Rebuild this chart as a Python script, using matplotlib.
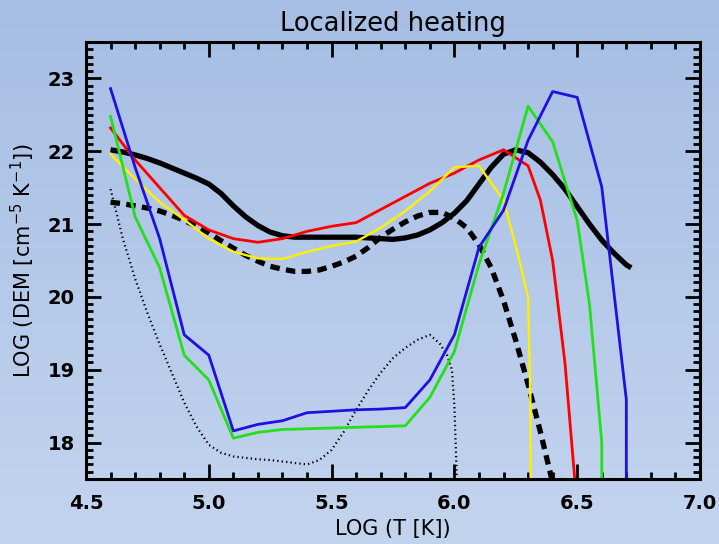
import numpy as np
import matplotlib
matplotlib.use("Agg")
import matplotlib.pyplot as plt
from matplotlib.colors import LinearSegmentedColormap
from matplotlib.ticker import MultipleLocator, FormatStrFormatter

# ---- data: log T vs log DEM ----
# smooth black curve
t_black = [4.60, 4.65, 4.70, 4.75, 4.80, 4.85, 4.90, 4.95, 5.00, 5.05, 5.10, 5.15,
           5.20, 5.25, 5.30, 5.35, 5.40, 5.50, 5.60, 5.70, 5.75, 5.80, 5.85, 5.90,
           5.95, 6.00, 6.05, 6.10, 6.15, 6.20, 6.25, 6.30, 6.35, 6.40, 6.45, 6.50,
           6.55, 6.60, 6.65, 6.70, 6.72]
dem_black = [22.02, 21.99, 21.95, 21.90, 21.84, 21.77, 21.70, 21.63, 21.55, 21.42, 21.25, 21.10,
             20.98, 20.89, 20.84, 20.82, 20.82, 20.82, 20.82, 20.80, 20.79, 20.81, 20.85, 20.92,
             21.02, 21.15, 21.32, 21.55, 21.78, 21.96, 22.02, 21.98, 21.85, 21.68, 21.48, 21.24,
             21.00, 20.78, 20.60, 20.44, 20.40]

# dashed black curve
t_dash = [4.60, 4.65, 4.70, 4.75, 4.80, 4.85, 4.90, 4.95, 5.00, 5.05, 5.10, 5.15, 5.20,
          5.25, 5.30, 5.35, 5.40, 5.45, 5.50, 5.55, 5.60, 5.65, 5.70, 5.75, 5.80, 5.85,
          5.90, 5.95, 6.00, 6.05, 6.10, 6.15, 6.20, 6.25, 6.30, 6.35, 6.40]
dem_dash = [21.30, 21.28, 21.25, 21.22, 21.18, 21.12, 21.05, 20.97, 20.88, 20.77, 20.67, 20.57, 20.49,
            20.42, 20.38, 20.35, 20.35, 20.37, 20.42, 20.48, 20.56, 20.68, 20.82, 20.93, 21.03, 21.11,
            21.16, 21.16, 21.08, 20.95, 20.72, 20.40, 19.95, 19.40, 18.80, 18.15, 17.45]

# dotted black curve
t_dot = [4.60, 4.65, 4.70, 4.75, 4.80, 4.85, 4.90, 4.95, 5.00, 5.05, 5.10, 5.15, 5.20,
         5.25, 5.30, 5.35, 5.40, 5.45, 5.50, 5.55, 5.60, 5.65, 5.70, 5.75, 5.80, 5.85,
         5.90, 5.94, 5.97, 5.99, 6.00, 6.01]
dem_dot = [21.48, 20.80, 20.25, 19.78, 19.35, 18.95, 18.55, 18.22, 17.97, 17.86, 17.81, 17.79, 17.77,
           17.76, 17.74, 17.72, 17.70, 17.76, 17.90, 18.15, 18.45, 18.72, 18.96, 19.16, 19.30, 19.41,
           19.48, 19.36, 19.20, 19.00, 18.50, 17.50]

# red model
t_red = [4.60, 4.70, 4.80, 4.90, 5.00, 5.10, 5.20, 5.30, 5.40, 5.50, 5.60, 5.70, 5.80,
         5.90, 6.00, 6.10, 6.20, 6.30, 6.35, 6.40, 6.45, 6.49]
dem_red = [22.32, 21.88, 21.50, 21.12, 20.92, 20.80, 20.75, 20.80, 20.90, 20.97, 21.02, 21.20, 21.38,
           21.56, 21.70, 21.88, 22.02, 21.80, 21.33, 20.50, 19.10, 17.50]

# yellow model
t_yel = [4.60, 4.70, 4.80, 4.90, 5.00, 5.10, 5.20, 5.30, 5.40, 5.50, 5.60, 5.70, 5.80,
         5.90, 6.00, 6.10, 6.20, 6.25, 6.30, 6.31, 6.31]
dem_yel = [21.96, 21.62, 21.30, 21.06, 20.80, 20.62, 20.53, 20.52, 20.62, 20.70, 20.76, 20.95, 21.18,
           21.45, 21.78, 21.80, 21.33, 20.70, 20.00, 18.50, 17.50]

# green model
t_grn = [4.60, 4.70, 4.80, 4.90, 5.00, 5.10, 5.20, 5.30, 5.40, 5.50, 5.60, 5.70, 5.80,
         5.90, 6.00, 6.10, 6.20, 6.30, 6.40, 6.50, 6.55, 6.60, 6.60]
dem_grn = [22.48, 21.10, 20.40, 19.20, 18.86, 18.06, 18.14, 18.18, 18.19, 18.20, 18.21, 18.22, 18.23,
           18.62, 19.25, 20.45, 21.42, 22.62, 22.13, 21.05, 19.90, 18.00, 17.50]

# blue model
t_blu = [4.60, 4.70, 4.80, 4.90, 5.00, 5.10, 5.20, 5.30, 5.40, 5.50, 5.60, 5.70, 5.80,
         5.90, 6.00, 6.10, 6.20, 6.30, 6.40, 6.50, 6.60, 6.70, 6.70]
dem_blu = [22.86, 21.78, 20.80, 19.48, 19.20, 18.16, 18.25, 18.30, 18.41, 18.43, 18.45, 18.46, 18.48,
           18.86, 19.48, 20.68, 21.19, 22.15, 22.82, 22.74, 21.51, 18.59, 17.50]

title = "Localized heating"
xlabel = "LOG (T [K])"
ylabel = r"LOG (DEM [cm$^{-5}$ K$^{-1}$])"

# ---- figure ----
fig = plt.figure(figsize=(7.19, 5.44), dpi=100)

# vertical gradient backdrop
bg = fig.add_axes([0, 0, 1, 1], zorder=-10)
cmap = LinearSegmentedColormap.from_list("bg", ["#A6BEE4", "#C3D4EE"])
bg.imshow(np.linspace(0, 1, 256).reshape(-1, 1), aspect="auto", cmap=cmap,
          extent=[0, 1, 0, 1], origin="upper")
bg.axis("off")

ax = fig.add_axes([86 / 719, 1 - 479 / 544, (700 - 86) / 719, (479 - 42) / 544])
ax.patch.set_alpha(0)

ax.plot(t_black, dem_black, color="black", lw=3.8, solid_capstyle="butt")
ax.plot(t_dash, dem_dash, color="black", lw=3.8, linestyle=(0, (1.8, 1.2)))
ax.plot(t_dot, dem_dot, color="black", lw=1.6, linestyle=(0, (0.6, 1.4)))
ax.plot(t_red, dem_red, color="#FF0000", lw=2.0)
ax.plot(t_yel, dem_yel, color="#FFF000", lw=1.7)
ax.plot(t_grn, dem_grn, color="#22E01A", lw=2.0)
ax.plot(t_blu, dem_blu, color="#2010E0", lw=2.0)

ax.set_xlim(4.5, 7.0)
ax.set_ylim(17.5, 23.5)
ax.xaxis.set_major_locator(MultipleLocator(0.5))
ax.xaxis.set_minor_locator(MultipleLocator(0.1))
ax.yaxis.set_major_locator(MultipleLocator(1))
ax.yaxis.set_minor_locator(MultipleLocator(0.1))
ax.xaxis.set_major_formatter(FormatStrFormatter("%.1f"))

ax.tick_params(which="both", direction="in", top=True, right=True, width=2, color="black")
ax.tick_params(which="major", length=11)
ax.tick_params(which="minor", length=5)
ax.tick_params(axis="x", pad=11)
ax.tick_params(axis="y", pad=8)
for lab in ax.get_xticklabels() + ax.get_yticklabels():
    lab.set_fontsize(14)
    lab.set_fontweight("bold")
for sp in ax.spines.values():
    sp.set_linewidth(2.2)

ax.set_title(title, fontsize=18.5, pad=8)
ax.set_xlabel(xlabel, fontsize=15, labelpad=4)
ax.set_ylabel(ylabel, fontsize=15, labelpad=8)

fig.savefig("out.png", dpi=100)
